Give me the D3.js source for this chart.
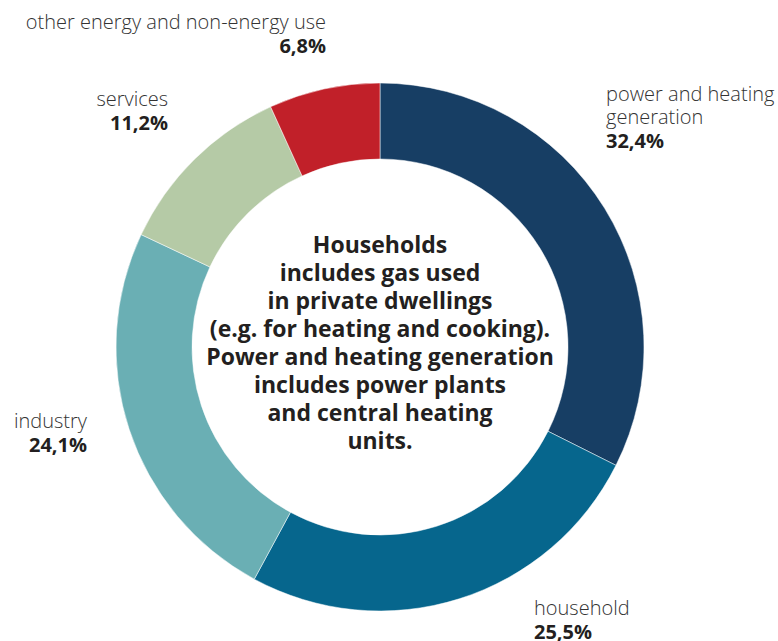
<!DOCTYPE html>
<html>
<head>
<meta charset="utf-8">
<script src="https://cdn.jsdelivr.net/npm/d3@7"></script>
<style>
body { margin: 0; background: #fff; }
text { font-family: "Open Sans", Roboto, sans-serif; fill: #231f20; }
</style>
</head>
<body>
<div id="chart"></div>
<script>
// gas consumption shares, clockwise from 12 o'clock
var categories = ["power and heating generation", "household", "industry", "services", "other energy and non-energy use"];
var shares = [32.4, 25.5, 24.1, 11.2, 6.8];
var colours = ["#173e64", "#06668d", "#6aafb4", "#b5caa6", "#c12029"];
// label lines as printed
var labelLines = [
	["power and heating", "generation"],
	["household"],
	["industry"],
	["services"],
	["other energy and non-energy use"]
];
var centreNote = [
	"Households",
	"includes gas used",
	"in private dwellings",
	"(e.g. for heating and cooking).",
	"Power and heating generation",
	"includes power plants",
	"and central heating",
	"units."
];

var width = 778, height = 641;
var cx = 380, cy = 347, outerR = 264, innerR = 188;

var svg = d3.select("#chart").append("svg")
	.attr("width", width)
	.attr("height", height);

var data = categories.map(function(c, i){ return {name: c, value: shares[i], colour: colours[i], lines: labelLines[i]}; });

var pie = d3.pie()
	.sort(null)
	.value(function(d){ return d.value; });
var arc = d3.arc()
	.innerRadius(innerR)
	.outerRadius(outerR);

var g = svg.append("g")
	.attr("transform", "translate(" + cx + "," + cy + ")");

g.selectAll("path")
	.data(pie(data))
	.enter().append("path")
	.attr("d", arc)
	.attr("fill", function(d){ return d.data.colour; })
	.attr("stroke", "#fff")
	.attr("stroke-width", 0.5);

// label anchors (baseline of first line, alignment)
var labelPos = [
	{x: 606, y: 101, anchor: "start"},
	{x: 534, y: 615, anchor: "start"},
	{x: 87, y: 428, anchor: "end"},
	{x: 168, y: 106, anchor: "end"},
	{x: 326, y: 29, anchor: "end"}
];

data.forEach(function(d, i){
	var p = labelPos[i];
	var t = svg.append("text")
		.attr("x", p.x)
		.attr("y", p.y)
		.attr("text-anchor", p.anchor)
		.style("font-size", "20px");
	d.lines.forEach(function(line, k){
		t.append("tspan")
			.attr("x", p.x)
			.attr("dy", k === 0 ? 0 : 23)
			.style("font-weight", 300)
			.style("fill", "#333")
			.text(line);
	});
	t.append("tspan")
		.attr("x", p.x)
		.attr("dy", 24)
		.style("font-weight", 700)
		.text(d3.format(".1f")(d.value).replace(".", ",") + "%");
});

// centre note
var note = svg.append("text")
	.attr("x", cx)
	.attr("y", 253)
	.attr("text-anchor", "middle")
	.style("font-size", "23px")
	.style("font-weight", 700);
centreNote.forEach(function(line, k){
	note.append("tspan")
		.attr("x", cx)
		.attr("dy", k === 0 ? 0 : 28)
		.text(line);
});
</script>
</body>
</html>
